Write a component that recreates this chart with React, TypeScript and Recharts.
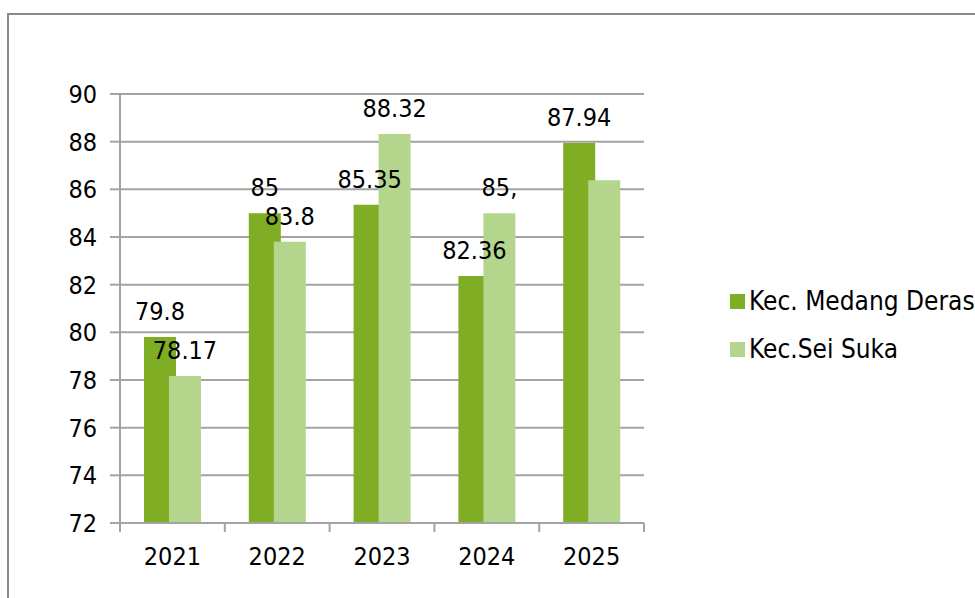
import React from "react";
import {
  BarChart,
  Bar,
  XAxis,
  YAxis,
  CartesianGrid,
  LabelList,
} from "recharts";

const categories = ["2021", "2022", "2023", "2024", "2025"];
const medangValues = [79.8, 85, 85.35, 82.36, 87.94];
const seiValues = [78.17, 83.8, 88.32, 85.0, 86.38];
const medangLabels = ["79.8", "85", "85.35", "82.36", "87.94"];
const seiLabels = ["78.17", "83.8", "88.32", "85,", ""];
const yTicks = [72, 74, 76, 78, 80, 82, 84, 86, 88, 90];
const seriesNames = ["Kec. Medang Deras", "Kec.Sei Suka"];

const DARK = "#7FAD24";
const LIGHT = "#B3D58C";
const GRID = "#A3A3A3";
const FONT = "'DejaVu Sans Condensed', 'DejaVu Sans', sans-serif";
const seriesColors = [DARK, LIGHT];

const data = categories.map((c, i) => ({
  year: c,
  medang: medangValues[i],
  sei: seiValues[i],
  medangLabel: medangLabels[i],
  seiLabel: seiLabels[i],
}));

const YearTick = (props: any) => {
  const { x, y, payload, index, visibleTicksCount } = props;
  const half = payload && payload.offset != null ? payload.offset : 0;
  const isLast = index === (visibleTicksCount ?? categories.length) - 1;
  return (
    <g>
      <line
        x1={x - half}
        x2={x - half}
        y1={y}
        y2={y + 9}
        stroke={GRID}
        strokeWidth={2}
      />
      {isLast && (
        <line
          x1={x + half}
          x2={x + half}
          y1={y}
          y2={y + 9}
          stroke={GRID}
          strokeWidth={2}
        />
      )}
      <text
        x={x}
        y={y + 24}
        dy="0.72em"
        textAnchor="middle"
        fill="#000"
        fontSize={25}
        fontFamily={FONT}
      >
        {payload.value}
      </text>
    </g>
  );
};

export default function App() {
  return (
    <div
      style={{
        position: "absolute",
        left: 0,
        top: 0,
        width: 975,
        height: 598,
        overflow: "hidden",
        background: "#fff",
        fontFamily: FONT,
      }}
    >
      <div
        style={{
          position: "absolute",
          left: 7,
          top: 13,
          width: 1000,
          height: 700,
          borderTop: "2px solid #8A8A8A",
          borderLeft: "2px solid #8A8A8A",
        }}
      />
      <div style={{ position: "absolute", left: 0, top: 0 }}>
        <BarChart
          width={975}
          height={598}
          data={data}
          margin={{ top: 94, right: 331, bottom: 15, left: 0 }}
          barSize={32}
          barGap={-7}
        >
          <CartesianGrid
            horizontal={true}
            vertical={false}
            stroke={GRID}
            strokeWidth={2}
          />
          <XAxis
            dataKey="year"
            height={60}
            interval={0}
            tickLine={false}
            tickSize={0}
            tickMargin={0}
            axisLine={{ stroke: GRID, strokeWidth: 2 }}
            tick={<YearTick />}
          />
          <YAxis
            width={120}
            domain={[72, 90]}
            ticks={yTicks}
            interval={0}
            allowDataOverflow
            tickSize={10}
            tickMargin={13}
            tickLine={{ stroke: GRID, strokeWidth: 2 }}
            axisLine={{ stroke: GRID, strokeWidth: 2 }}
            tick={{ fill: "#000", fontSize: 25, fontFamily: FONT }}
          />
          <Bar
            dataKey="medang"
            name={seriesNames[0]}
            fill={DARK}
            isAnimationActive={false}
          >
            <LabelList
              dataKey="medangLabel"
              position="top"
              offset={17}
              fill="#000"
              fontSize={25}
              fontFamily={FONT}
            />
          </Bar>
          <Bar
            dataKey="sei"
            name={seriesNames[1]}
            fill={LIGHT}
            isAnimationActive={false}
          >
            <LabelList
              dataKey="seiLabel"
              position="top"
              offset={17}
              fill="#000"
              fontSize={25}
              fontFamily={FONT}
            />
          </Bar>
        </BarChart>
      </div>
      <div style={{ position: "absolute", left: 730, top: 277 }}>
        {seriesNames.map((name, i) => (
          <div
            key={name}
            style={{
              display: "flex",
              alignItems: "center",
              height: 48,
              fontSize: 26,
              color: "#000",
              whiteSpace: "nowrap",
            }}
          >
            <span
              style={{
                display: "inline-block",
                width: 15,
                height: 15,
                background: seriesColors[i],
                marginRight: 4,
              }}
            />
            {name}
          </div>
        ))}
      </div>
    </div>
  );
}
